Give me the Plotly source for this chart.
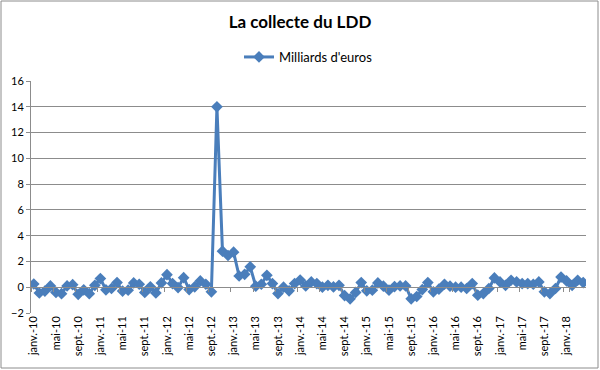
import plotly.graph_objects as go

# Monthly net inflows (billions of euros), Jan 2010 .. Apr 2018
y2010 = [0.25, -0.45, -0.3, 0.1, -0.4, -0.5, 0.1, 0.2, -0.55, -0.2, -0.5, 0.15]
y2011 = [0.67, -0.2, -0.1, 0.36, -0.3, -0.23, 0.33, 0.23, -0.4, 0.03, -0.44, 0.33]
y2012 = [0.97, 0.28, -0.03, 0.74, -0.18, 0.03, 0.49, 0.23, -0.36, 14.0, 2.8, 2.46]
y2013 = [2.72, 0.87, 1.0, 1.58, 0.08, 0.23, 0.92, 0.28, -0.49, 0.0, -0.28, 0.28]
y2014 = [0.56, 0.1, 0.41, 0.28, 0.0, 0.15, 0.02, 0.15, -0.65, -0.9, -0.4, 0.36]
y2015 = [-0.28, -0.23, 0.33, 0.08, -0.23, 0.05, 0.1, 0.1, -0.9, -0.72, -0.18, 0.36]
y2016 = [-0.36, -0.15, 0.23, 0.08, 0.0, 0.0, -0.1, 0.28, -0.62, -0.49, -0.1, 0.72]
y2017 = [0.41, 0.15, 0.54, 0.41, 0.28, 0.28, 0.23, 0.41, -0.36, -0.49, -0.1, 0.79]
y2018 = [0.49, 0.15, 0.54, 0.36]

years = [10, 11, 12, 13, 14, 15, 16, 17, 18]
month_abbr = ["janv.", "févr.", "mars", "avr.", "mai", "juin",
              "juil.", "août", "sept.", "oct.", "nov.", "déc."]
series = [y2010, y2011, y2012, y2013, y2014, y2015, y2016, y2017, y2018]

categories = []
values = []
for yr, vals in zip(years, series):
    for m, v in enumerate(vals):
        categories.append(f"{month_abbr[m]}-{yr}")
        values.append(v)

tick_cats = categories[::4]
tick_labels = [c for c in tick_cats]

blue = "#4a7ebb"
grid = "#8c8c8c"
font_family = "Lato, 'Open Sans', sans-serif"

fig = go.Figure()
fig.add_trace(go.Scatter(
    x=categories, y=values, mode="lines+markers", name="Milliards d'euros",
    line=dict(color=blue, width=3),
    marker=dict(symbol="diamond", size=9, color=blue),
))
# invisible trace carrying the category axis drawn at y = 0
fig.add_trace(go.Scatter(
    x=categories, y=values, xaxis="x2", mode="lines", showlegend=False,
    line=dict(width=0), opacity=0, hoverinfo="skip",
))

fig.update_layout(
    width=600, height=370,
    paper_bgcolor="white", plot_bgcolor="white",
    margin=dict(l=31, r=14, t=81, b=57, autoexpand=False),
    font=dict(family=font_family, size=11, color="#000000"),
    title=dict(text="<b>La collecte du LDD</b>", x=0.5, xanchor="center",
               y=1 - 22 / 370, yanchor="middle", yref="container",
               font=dict(size=17, family=font_family, color="#000000")),
    showlegend=True,
    legend=dict(orientation="h", x=0.5, xanchor="center", y=(313 - 57) / 232,
                yanchor="middle", font=dict(size=13), bgcolor="rgba(0,0,0,0)",
                itemwidth=30),
    xaxis=dict(type="category", categoryorder="array", categoryarray=categories,
               range=[-0.5, len(categories) - 0.5], automargin=False,
               tickmode="array", tickvals=tick_cats, ticktext=tick_labels,
               tickangle=-90, showgrid=False, showline=False, ticks="",
               zeroline=False, tickfont=dict(size=11)),
    xaxis2=dict(type="category", categoryorder="array", categoryarray=categories,
                range=[-0.5, len(categories) - 0.5], overlaying="x",
                anchor="free", position=2 / 18, showticklabels=False,
                showgrid=False, showline=True, linecolor=grid, linewidth=1,
                tickmode="array", tickvals=tick_cats, tickson="boundaries",
                ticks="outside", ticklen=4, tickcolor=grid),
    yaxis=dict(range=[-2, 16], dtick=2, showgrid=True, gridcolor=grid,
               gridwidth=1, zeroline=False, showline=True, linecolor=grid,
               ticks="outside", ticklen=4, tickcolor=grid, automargin=False,
               tickfont=dict(size=11)),
)

# outer chart frame
fig.add_shape(type="rect", xref="paper", yref="paper",
              x0=(1 - 31) / 555, x1=(598 - 31) / 555,
              y0=(313 - 368) / 232, y1=(313 - 1) / 232,
              line=dict(color="#8c8c8c", width=1), layer="below")

fig.write_html("out.html",
               config={"displayModeBar": False},
               post_script="document.body.style.margin='0';document.body.style.padding='0';")
